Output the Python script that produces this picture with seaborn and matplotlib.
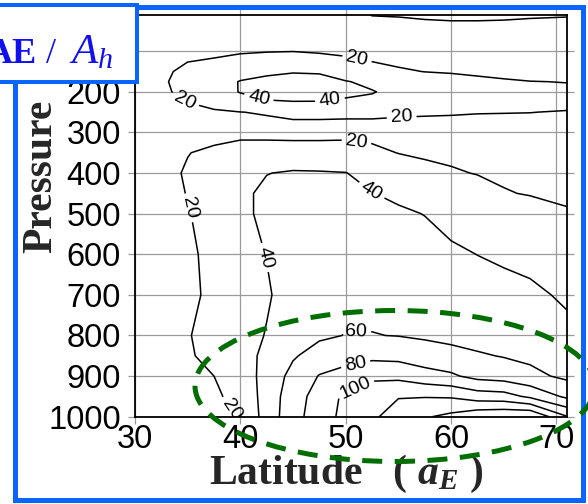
import numpy as np
import pandas as pd
import matplotlib
matplotlib.use("Agg")
import matplotlib.pyplot as plt
import seaborn as sns
from matplotlib.patches import Rectangle, Ellipse

# ---- data (AE / A_h on latitude x pressure) ----
pressure = [10, 50, 100, 125, 150, 175, 200, 225, 250, 275, 300, 350,
            400, 450, 500, 600, 700, 800, 850, 900, 950, 1000]
latitudes = [30, 32.5, 35, 37.5, 40, 42.5, 45, 47.5, 50, 52.5, 55,
             57.5, 60, 62.5, 65, 67.5, 71]

ae_lat30 = [10, 11, 12, 13, 14, 15, 15, 14.5, 14, 13, 12.5, 12, 13, 13, 13, 13, 13, 13.5, 13, 12, 11, 10]
ae_lat32_5 = [11, 13, 15, 16.5, 17.5, 18.5, 18, 17, 16, 15, 14.5, 15.5, 17, 17, 16.5, 16, 16, 16.5, 16, 14, 12.5, 11]
ae_lat35 = [12, 14, 17, 19.8, 23, 24, 23, 20.1, 17.5, 16, 15.5, 19.7, 21, 20.3, 19, 18, 18.5, 19, 18, 16, 14, 12.5]
ae_lat37_5 = [12.5, 14.5, 18, 21, 27, 31, 30, 24, 18.5, 17, 16.5, 22, 25, 27, 27, 23, 21.5, 26, 25, 20, 17.5, 14.5]
ae_lat40 = [13, 15, 19, 23, 32, 41, 41, 32, 19.8, 18, 17, 25, 32, 36, 36, 33, 30, 32, 33, 29, 25, 21]
ae_lat42_5 = [13.5, 15.5, 19.5, 25, 37, 44, 44, 39, 21, 18, 17, 25, 39.5, 44, 44, 40.5, 38, 41, 44, 47, 48, 48]
ae_lat45 = [14, 16, 19.8, 27, 39, 46, 47, 39.5, 24, 18.5, 16, 26, 42, 47, 48, 48, 48, 52, 58, 66, 71, 73]
ae_lat47_5 = [15, 16, 18.5, 26, 38.5, 45, 46, 39.5, 24, 18.5, 16, 26, 41.5, 48, 51, 52, 54, 57, 68, 81, 88, 90]
ae_lat50 = [17, 15.5, 18, 22, 30, 41, 43, 38, 23, 18.5, 17, 25, 40.5, 48, 52, 54, 56, 60.5, 73, 87, 104, 106]
ae_lat52_5 = [20.3, 16, 17.5, 19.8, 27, 36, 41, 36, 23, 18.5, 17.5, 22, 33, 40.5, 44, 52, 55, 60.5, 75, 96, 112, 117]
ae_lat55 = [21, 14, 16, 18, 21.5, 30, 35, 32, 22, 18, 17, 19.8, 25, 36, 43, 50, 55, 59.5, 74, 95, 119, 128]
ae_lat57_5 = [22.5, 14, 15.5, 17, 19.8, 26, 30, 29, 21, 18.5, 17.5, 18.5, 23, 30, 39.5, 48, 53, 57.5, 69, 88, 119, 138]
ae_lat60 = [23, 15, 15, 16.5, 19, 24.5, 27.5, 27, 20.7, 18.5, 17.5, 18, 21, 27, 34, 43, 51, 55, 66, 83, 118, 145]
ae_lat62_5 = [23, 15, 14.5, 16, 18, 22.5, 25.5, 25.5, 20.3, 18.5, 17.5, 17.5, 19.6, 24, 30, 39.8, 48, 53, 62, 74, 110, 155]
ae_lat65 = [22.5, 15, 14.5, 15.5, 17, 21.2, 24, 24, 20.2, 18.5, 17.5, 17, 18.5, 20.6, 27, 37, 46, 53, 59, 71, 108, 158]
ae_lat67_5 = [21.5, 15, 14.5, 15.5, 16.5, 20.2, 23.5, 23, 20.1, 18.5, 17.5, 17, 18, 19.4, 24.5, 34, 44, 51.5, 56, 65, 96, 160]
ae_lat71 = [21, 14, 14, 15, 16, 19.8, 21.5, 22, 19.6, 18.5, 17.5, 16.5, 17, 18.5, 20.8, 31, 37, 45, 50, 56, 76, 121]

contour_levels = [20, 40, 60, 80, 100, 120, 140]
x_ticks = [30, 40, 50, 60, 70]
y_ticks = [100, 200, 300, 400, 500, 600, 700, 800, 900, 1000]
label_positions = [(34.7, 224), (51, 127), (55.3, 258), (51, 326), (35.4, 484),
                   (39.0, 984), (41.7, 220), (48.5, 220), (42.5, 607),
                   (52.5, 442), (51, 794), (51, 878), (50.7, 917)]

# ---- style ----
sns.set_style("white")
plt.rcParams['font.family'] = ['Liberation Sans', 'DejaVu Sans']
plt.rcParams['mathtext.fontset'] = 'custom'
plt.rcParams['mathtext.rm'] = 'Liberation Serif'
plt.rcParams['mathtext.it'] = 'Liberation Serif:italic'
plt.rcParams['mathtext.bf'] = 'Liberation Serif:bold'
plt.rcParams['mathtext.bfit'] = 'Liberation Serif:italic:bold'

W, H = 588, 504
fig = plt.figure(figsize=(W / 100, H / 100), dpi=100)
fig.patch.set_facecolor('white')
ax_l, ax_r, ax_t, ax_b = 135, 567, 14.7, 416.7
ax = fig.add_axes([ax_l / W, 1 - ax_b / H, (ax_r - ax_l) / W, (ax_b - ax_t) / H])

columns = [ae_lat30, ae_lat32_5, ae_lat35, ae_lat37_5, ae_lat40, ae_lat42_5,
           ae_lat45, ae_lat47_5, ae_lat50, ae_lat52_5, ae_lat55, ae_lat57_5,
           ae_lat60, ae_lat62_5, ae_lat65, ae_lat67_5, ae_lat71]
df = pd.DataFrame(np.column_stack(columns), index=pressure, columns=latitudes)
X, Y = np.meshgrid(df.columns.values.astype(float), df.index.values.astype(float))

cs = ax.contour(X, Y, df.values, levels=contour_levels, colors='black',
                linewidths=1.1, zorder=3)
ax.set_xlim(30, 71)
ax.set_ylim(1000, 10)
ax.clabel(cs, fmt='%d', fontsize=14, inline=True, inline_spacing=4,
          manual=label_positions)

ax.set_xticks(x_ticks)
ax.set_yticks(y_ticks)
ax.grid(True, color='#9a9a9a', linewidth=0.9)
ax.set_axisbelow(True)
for s in ax.spines.values():
    s.set_visible(True)
    s.set_color('black')
    s.set_linewidth(1.3)
ax.tick_params(axis='both', which='both', direction='out', length=5, width=0.9,
               color='#9a9a9a', labelsize=23.5, labelcolor='black',
               top=True, right=True, left=True, bottom=True,
               labeltop=False, labelright=False)
ax.tick_params(axis='x', pad=0)
ax.tick_params(axis='y', pad=5)
ax.set_xlabel('')
ax.set_ylabel('')


def fx(px):
    return px / W


def fy(py):
    return 1 - py / H


# axis titles
fig.text(fx(41), fy(176), 'Pressure', rotation=90, fontsize=30,
         fontweight='bold', family='Liberation Serif', ha='center', va='center')
fig.text(fx(346), fy(484), r'Latitude   ( $\mathbfit{a}_{\mathbfit{E}}$ )',
         fontsize=30, fontweight='bold', family='Liberation Serif',
         ha='center', va='baseline')

# outer blue frame
frame = Rectangle((fx(14.5), fy(499.5)), (582.5 - 14.5) / W, (499.5 - 6.5) / H,
                  transform=fig.transFigure, fill=False, edgecolor='#0a64ff',
                  linewidth=3.6, zorder=8)
fig.add_artist(frame)

# green dashed ellipse
ell = Ellipse((fx(395), fy(386)), 400 / W, 151 / H, transform=fig.transFigure,
              fill=False, edgecolor='#006e00', linewidth=3.6,
              linestyle=(0, (4, 2.5)), zorder=9)
fig.add_artist(ell)

# label box
box = Rectangle((fx(-10), fy(81.5)), (136.5 + 10) / W, (81.5 - 5) / H,
                transform=fig.transFigure, facecolor='white',
                edgecolor='#0a64ff', linewidth=2.9, zorder=10)
fig.add_artist(box)
box_color = '#1010f0'
fig.text(fx(-13), fy(63), 'AE', fontsize=26, fontweight='bold',
         color=box_color, family='Liberation Serif', ha='left', va='baseline',
         zorder=11)
fig.text(fx(46), fy(63), '/', fontsize=26, color=box_color,
         family='Liberation Serif', ha='left', va='baseline', zorder=11)
fig.text(fx(69), fy(63), r'$\mathit{A}_{\mathit{h}}$', fontsize=31,
         color=box_color, family='Liberation Serif', ha='left', va='baseline',
         zorder=11)

fig.savefig('out.png', dpi=100)
